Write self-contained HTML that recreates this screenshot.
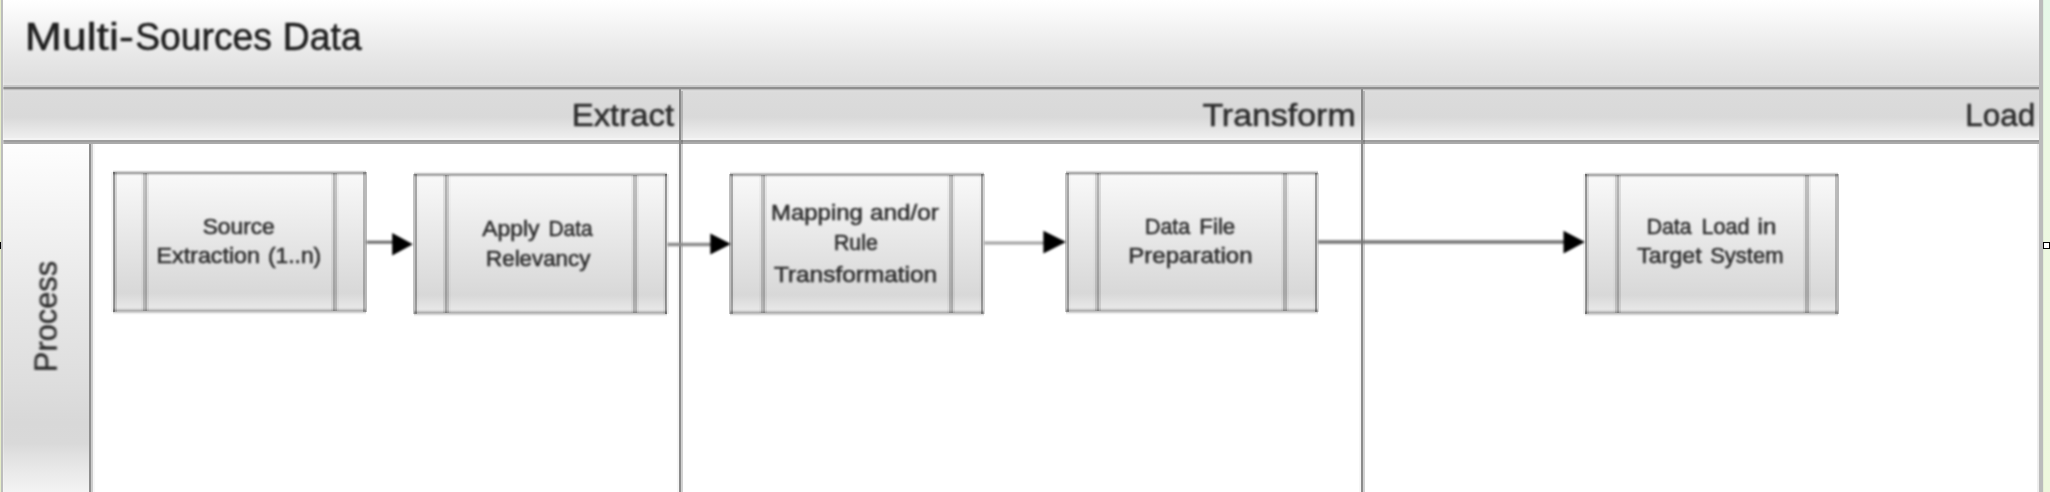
<!DOCTYPE html>
<html><head><meta charset="utf-8"><title>Multi-Sources Data</title>
<style>
html,body{margin:0;padding:0;background:#fff;}
body{width:2050px;height:492px;overflow:hidden;font-family:"Liberation Sans",sans-serif;}
svg{display:block;}
</style></head><body>
<svg width="2050" height="492" viewBox="0 0 2050 492" font-family="Liberation Sans, sans-serif" shape-rendering="crispEdges">
<defs>
<linearGradient id="gt" x1="0" y1="0" x2="0" y2="1"><stop offset="0" stop-color="#ffffff"/><stop offset="0.08" stop-color="#fcfcfc"/><stop offset="0.35" stop-color="#f2f2f2"/><stop offset="0.65" stop-color="#e7e7e7"/><stop offset="0.93" stop-color="#dfdfdf"/><stop offset="0.97" stop-color="#e3e3e3"/><stop offset="1" stop-color="#e3e3e3"/></linearGradient>
<linearGradient id="gp" x1="0" y1="0" x2="0" y2="1"><stop offset="0" stop-color="#e0e0e0"/><stop offset="0.08" stop-color="#dbdbdb"/><stop offset="0.55" stop-color="#d9d9d9"/><stop offset="0.95" stop-color="#eeeeee"/><stop offset="1" stop-color="#f3f3f3"/></linearGradient>
<linearGradient id="gc" x1="0" y1="0" x2="0" y2="1"><stop offset="0" stop-color="#fefefe"/><stop offset="0.45" stop-color="#e7e7e7"/><stop offset="0.68" stop-color="#dedede"/><stop offset="0.80" stop-color="#d8d8d8"/><stop offset="0.86" stop-color="#d9d9d9"/><stop offset="0.9" stop-color="#e2e2e2"/><stop offset="0.95" stop-color="#ebebeb"/><stop offset="1" stop-color="#f3f3f3"/></linearGradient>
<linearGradient id="bx" x1="0" y1="0" x2="0" y2="1"><stop offset="0" stop-color="#f9f9f9"/><stop offset="0.5" stop-color="#e6e6e6"/><stop offset="0.87" stop-color="#d8d8d8"/><stop offset="1" stop-color="#ebebeb"/></linearGradient>
<linearGradient id="gr" x1="0" y1="0" x2="0" y2="1"><stop offset="0" stop-color="#e6f7e8"/><stop offset="0.3" stop-color="#ecf7e2"/><stop offset="1" stop-color="#eef7dd"/></linearGradient>
<filter id="bt" x="-20" y="-20" width="2090" height="532" filterUnits="userSpaceOnUse" color-interpolation-filters="sRGB"><feGaussianBlur stdDeviation="0.9"/></filter>
</defs>
<rect width="2050" height="492" fill="#ffffff"/>

<rect x="3" y="0" width="2036" height="87" fill="url(#gt)"/>
<rect x="3" y="89" width="2036" height="51" fill="url(#gp)"/>
<rect x="3" y="144" width="86" height="348" fill="url(#gc)"/>
<rect x="3" y="85" width="2037.5" height="2" fill="#c9c9c9"/>
<rect x="3" y="87" width="2037.5" height="2" fill="#8e8e8e"/>
<rect x="3" y="89" width="2037.5" height="1" fill="#bcbcbc"/>
<rect x="3" y="90" width="2037.5" height="1" fill="#d6d6d6"/>
<rect x="3" y="138" width="2036" height="2" fill="#f4f4f4"/>
<rect x="3" y="140" width="2037.5" height="2" fill="#9d9d9d"/>
<rect x="3" y="142" width="2037.5" height="2" fill="#aaaaaa"/>
<rect x="677" y="144" width="2" height="348" fill="#f6f6f6"/>
<rect x="679" y="89" width="2" height="403" fill="#8b8b8b"/>
<rect x="681" y="91" width="2" height="401" fill="#000" fill-opacity="0.18"/>
<rect x="1359" y="144" width="2" height="348" fill="#f6f6f6"/>
<rect x="1361" y="89" width="2" height="403" fill="#8b8b8b"/>
<rect x="1363" y="91" width="2" height="401" fill="#000" fill-opacity="0.18"/>
<rect x="89" y="144" width="2" height="348" fill="#8e8e8e"/>
<rect x="91" y="144" width="2" height="348" fill="#cccccc"/>
<rect x="93" y="144" width="2" height="348" fill="#f8f8f8"/>
<rect x="0" y="0" width="1" height="492" fill="#e6eec8"/>
<rect x="1" y="0" width="2" height="492" fill="#bdbdbd"/>
<rect x="3" y="0" width="1" height="492" fill="#fff" fill-opacity="0.3"/>
<rect x="2037" y="144" width="2" height="348" fill="#eeeeee"/>
<rect x="2039" y="0" width="4" height="492" fill="#bbbbbb"/>
<rect x="2043" y="0" width="7" height="492" fill="url(#gr)"/>
<rect x="2043" y="0" width="1" height="492" fill="#000" fill-opacity="0.035"/>
<rect x="0" y="242" width="1.4" height="7" fill="#000"/>
<rect x="2043.65" y="242.65" width="5.7" height="5.7" fill="#fff" stroke="#000" stroke-width="1.3"/>
<rect x="114.3" y="172.9" width="250.75" height="138.20000000000002" fill="url(#bx)"/><rect x="141" y="173" width="2" height="138" fill="#000" fill-opacity="0.034"/><rect x="143" y="173" width="2" height="138" fill="#000" fill-opacity="0.201"/><rect x="145" y="173" width="2" height="138" fill="#000" fill-opacity="0.252"/><rect x="147" y="173" width="2" height="138" fill="#000" fill-opacity="0.068"/><rect x="331" y="173" width="2" height="138" fill="#000" fill-opacity="0.068"/><rect x="333" y="173" width="2" height="138" fill="#000" fill-opacity="0.252"/><rect x="335" y="173" width="2" height="138" fill="#000" fill-opacity="0.201"/><rect x="337" y="173" width="2" height="138" fill="#000" fill-opacity="0.034"/><rect x="113.3" y="170" width="252.75" height="1" fill="#000" fill-opacity="0.049"/><rect x="113.3" y="171" width="252.75" height="1" fill="#000" fill-opacity="0.170"/><rect x="113.3" y="172" width="252.75" height="1" fill="#000" fill-opacity="0.307"/><rect x="113.3" y="173" width="252.75" height="1" fill="#000" fill-opacity="0.287"/><rect x="113.3" y="174" width="252.75" height="1" fill="#000" fill-opacity="0.140"/><rect x="113.3" y="175" width="252.75" height="1" fill="#000" fill-opacity="0.035"/><rect x="113.3" y="307" width="252.75" height="1" fill="#000" fill-opacity="0.013"/><rect x="113.3" y="308" width="252.75" height="1" fill="#000" fill-opacity="0.055"/><rect x="113.3" y="309" width="252.75" height="1" fill="#000" fill-opacity="0.143"/><rect x="113.3" y="310" width="252.75" height="1" fill="#000" fill-opacity="0.236"/><rect x="113.3" y="311" width="252.75" height="1" fill="#000" fill-opacity="0.247"/><rect x="113.3" y="312" width="252.75" height="1" fill="#000" fill-opacity="0.164"/><rect x="113.3" y="313" width="252.75" height="1" fill="#000" fill-opacity="0.069"/><rect x="113.3" y="314" width="252.75" height="1" fill="#000" fill-opacity="0.018"/><rect x="111" y="172" width="2" height="140" fill="#000" fill-opacity="0.049"/><rect x="113" y="172" width="2" height="140" fill="#000" fill-opacity="0.393"/><rect x="115" y="172" width="2" height="140" fill="#000" fill-opacity="0.131"/><rect x="363" y="172" width="2" height="140" fill="#000" fill-opacity="0.246"/><rect x="365" y="172" width="2" height="140" fill="#000" fill-opacity="0.269"/>
<rect x="415.2" y="174.6" width="250.90000000000003" height="138.4" fill="url(#bx)"/><rect x="443" y="175" width="2" height="138" fill="#000" fill-opacity="0.092"/><rect x="445" y="175" width="2" height="138" fill="#000" fill-opacity="0.269"/><rect x="447" y="175" width="2" height="138" fill="#000" fill-opacity="0.170"/><rect x="449" y="175" width="2" height="138" fill="#000" fill-opacity="0.023"/><rect x="631" y="175" width="2" height="138" fill="#000" fill-opacity="0.049"/><rect x="633" y="175" width="2" height="138" fill="#000" fill-opacity="0.229"/><rect x="635" y="175" width="2" height="138" fill="#000" fill-opacity="0.229"/><rect x="637" y="175" width="2" height="138" fill="#000" fill-opacity="0.049"/><rect x="414.2" y="171" width="252.90000000000003" height="1" fill="#000" fill-opacity="0.014"/><rect x="414.2" y="172" width="252.90000000000003" height="1" fill="#000" fill-opacity="0.076"/><rect x="414.2" y="173" width="252.90000000000003" height="1" fill="#000" fill-opacity="0.217"/><rect x="414.2" y="174" width="252.90000000000003" height="1" fill="#000" fill-opacity="0.322"/><rect x="414.2" y="175" width="252.90000000000003" height="1" fill="#000" fill-opacity="0.248"/><rect x="414.2" y="176" width="252.90000000000003" height="1" fill="#000" fill-opacity="0.099"/><rect x="414.2" y="177" width="252.90000000000003" height="1" fill="#000" fill-opacity="0.020"/><rect x="414.2" y="309" width="252.90000000000003" height="1" fill="#000" fill-opacity="0.016"/><rect x="414.2" y="310" width="252.90000000000003" height="1" fill="#000" fill-opacity="0.061"/><rect x="414.2" y="311" width="252.90000000000003" height="1" fill="#000" fill-opacity="0.153"/><rect x="414.2" y="312" width="252.90000000000003" height="1" fill="#000" fill-opacity="0.242"/><rect x="414.2" y="313" width="252.90000000000003" height="1" fill="#000" fill-opacity="0.242"/><rect x="414.2" y="314" width="252.90000000000003" height="1" fill="#000" fill-opacity="0.153"/><rect x="414.2" y="315" width="252.90000000000003" height="1" fill="#000" fill-opacity="0.061"/><rect x="414.2" y="316" width="252.90000000000003" height="1" fill="#000" fill-opacity="0.016"/><rect x="413" y="174" width="2" height="140" fill="#000" fill-opacity="0.234"/><rect x="415" y="174" width="2" height="140" fill="#000" fill-opacity="0.319"/><rect x="417" y="174" width="2" height="140" fill="#000" fill-opacity="0.017"/><rect x="663" y="174" width="2" height="140" fill="#000" fill-opacity="0.051"/><rect x="665" y="174" width="2" height="140" fill="#000" fill-opacity="0.398"/><rect x="667" y="174" width="2" height="140" fill="#000" fill-opacity="0.076"/>
<rect x="731.1" y="174.6" width="251.5" height="138.4" fill="url(#bx)"/><rect x="759" y="175" width="2" height="138" fill="#000" fill-opacity="0.034"/><rect x="761" y="175" width="2" height="138" fill="#000" fill-opacity="0.201"/><rect x="763" y="175" width="2" height="138" fill="#000" fill-opacity="0.252"/><rect x="765" y="175" width="2" height="138" fill="#000" fill-opacity="0.068"/><rect x="947" y="175" width="2" height="138" fill="#000" fill-opacity="0.038"/><rect x="949" y="175" width="2" height="138" fill="#000" fill-opacity="0.210"/><rect x="951" y="175" width="2" height="138" fill="#000" fill-opacity="0.245"/><rect x="953" y="175" width="2" height="138" fill="#000" fill-opacity="0.061"/><rect x="730.1" y="171" width="253.5" height="1" fill="#000" fill-opacity="0.014"/><rect x="730.1" y="172" width="253.5" height="1" fill="#000" fill-opacity="0.076"/><rect x="730.1" y="173" width="253.5" height="1" fill="#000" fill-opacity="0.217"/><rect x="730.1" y="174" width="253.5" height="1" fill="#000" fill-opacity="0.322"/><rect x="730.1" y="175" width="253.5" height="1" fill="#000" fill-opacity="0.248"/><rect x="730.1" y="176" width="253.5" height="1" fill="#000" fill-opacity="0.099"/><rect x="730.1" y="177" width="253.5" height="1" fill="#000" fill-opacity="0.020"/><rect x="730.1" y="309" width="253.5" height="1" fill="#000" fill-opacity="0.016"/><rect x="730.1" y="310" width="253.5" height="1" fill="#000" fill-opacity="0.061"/><rect x="730.1" y="311" width="253.5" height="1" fill="#000" fill-opacity="0.153"/><rect x="730.1" y="312" width="253.5" height="1" fill="#000" fill-opacity="0.242"/><rect x="730.1" y="313" width="253.5" height="1" fill="#000" fill-opacity="0.242"/><rect x="730.1" y="314" width="253.5" height="1" fill="#000" fill-opacity="0.153"/><rect x="730.1" y="315" width="253.5" height="1" fill="#000" fill-opacity="0.061"/><rect x="730.1" y="316" width="253.5" height="1" fill="#000" fill-opacity="0.016"/><rect x="729" y="174" width="2" height="140" fill="#000" fill-opacity="0.256"/><rect x="731" y="174" width="2" height="140" fill="#000" fill-opacity="0.299"/><rect x="733" y="174" width="2" height="140" fill="#000" fill-opacity="0.013"/><rect x="979" y="174" width="2" height="140" fill="#000" fill-opacity="0.016"/><rect x="981" y="174" width="2" height="140" fill="#000" fill-opacity="0.342"/><rect x="983" y="174" width="2" height="140" fill="#000" fill-opacity="0.166"/>
<rect x="1067.2" y="173.1" width="249.29999999999995" height="138.00000000000003" fill="url(#bx)"/><rect x="1093" y="173" width="2" height="138" fill="#000" fill-opacity="0.017"/><rect x="1095" y="173" width="2" height="138" fill="#000" fill-opacity="0.149"/><rect x="1097" y="173" width="2" height="138" fill="#000" fill-opacity="0.275"/><rect x="1099" y="173" width="2" height="138" fill="#000" fill-opacity="0.109"/><rect x="1281" y="173" width="2" height="138" fill="#000" fill-opacity="0.049"/><rect x="1283" y="173" width="2" height="138" fill="#000" fill-opacity="0.229"/><rect x="1285" y="173" width="2" height="138" fill="#000" fill-opacity="0.229"/><rect x="1287" y="173" width="2" height="138" fill="#000" fill-opacity="0.049"/><rect x="1066.2" y="170" width="251.29999999999995" height="1" fill="#000" fill-opacity="0.035"/><rect x="1066.2" y="171" width="251.29999999999995" height="1" fill="#000" fill-opacity="0.140"/><rect x="1066.2" y="172" width="251.29999999999995" height="1" fill="#000" fill-opacity="0.287"/><rect x="1066.2" y="173" width="251.29999999999995" height="1" fill="#000" fill-opacity="0.307"/><rect x="1066.2" y="174" width="251.29999999999995" height="1" fill="#000" fill-opacity="0.170"/><rect x="1066.2" y="175" width="251.29999999999995" height="1" fill="#000" fill-opacity="0.049"/><rect x="1066.2" y="307" width="251.29999999999995" height="1" fill="#000" fill-opacity="0.013"/><rect x="1066.2" y="308" width="251.29999999999995" height="1" fill="#000" fill-opacity="0.055"/><rect x="1066.2" y="309" width="251.29999999999995" height="1" fill="#000" fill-opacity="0.143"/><rect x="1066.2" y="310" width="251.29999999999995" height="1" fill="#000" fill-opacity="0.236"/><rect x="1066.2" y="311" width="251.29999999999995" height="1" fill="#000" fill-opacity="0.247"/><rect x="1066.2" y="312" width="251.29999999999995" height="1" fill="#000" fill-opacity="0.164"/><rect x="1066.2" y="313" width="251.29999999999995" height="1" fill="#000" fill-opacity="0.069"/><rect x="1066.2" y="314" width="251.29999999999995" height="1" fill="#000" fill-opacity="0.018"/><rect x="1065" y="173" width="2" height="139" fill="#000" fill-opacity="0.234"/><rect x="1067" y="173" width="2" height="139" fill="#000" fill-opacity="0.319"/><rect x="1069" y="173" width="2" height="139" fill="#000" fill-opacity="0.017"/><rect x="1313" y="173" width="2" height="139" fill="#000" fill-opacity="0.020"/><rect x="1315" y="173" width="2" height="139" fill="#000" fill-opacity="0.359"/><rect x="1317" y="173" width="2" height="139" fill="#000" fill-opacity="0.145"/>
<rect x="1586.2" y="174.9" width="250.89999999999986" height="138.1" fill="url(#bx)"/><rect x="1613" y="175" width="2" height="138" fill="#000" fill-opacity="0.020"/><rect x="1615" y="175" width="2" height="138" fill="#000" fill-opacity="0.159"/><rect x="1617" y="175" width="2" height="138" fill="#000" fill-opacity="0.272"/><rect x="1619" y="175" width="2" height="138" fill="#000" fill-opacity="0.100"/><rect x="1803" y="175" width="2" height="138" fill="#000" fill-opacity="0.049"/><rect x="1805" y="175" width="2" height="138" fill="#000" fill-opacity="0.229"/><rect x="1807" y="175" width="2" height="138" fill="#000" fill-opacity="0.229"/><rect x="1809" y="175" width="2" height="138" fill="#000" fill-opacity="0.049"/><rect x="1585.2" y="172" width="252.89999999999986" height="1" fill="#000" fill-opacity="0.049"/><rect x="1585.2" y="173" width="252.89999999999986" height="1" fill="#000" fill-opacity="0.170"/><rect x="1585.2" y="174" width="252.89999999999986" height="1" fill="#000" fill-opacity="0.307"/><rect x="1585.2" y="175" width="252.89999999999986" height="1" fill="#000" fill-opacity="0.287"/><rect x="1585.2" y="176" width="252.89999999999986" height="1" fill="#000" fill-opacity="0.140"/><rect x="1585.2" y="177" width="252.89999999999986" height="1" fill="#000" fill-opacity="0.035"/><rect x="1585.2" y="309" width="252.89999999999986" height="1" fill="#000" fill-opacity="0.016"/><rect x="1585.2" y="310" width="252.89999999999986" height="1" fill="#000" fill-opacity="0.061"/><rect x="1585.2" y="311" width="252.89999999999986" height="1" fill="#000" fill-opacity="0.153"/><rect x="1585.2" y="312" width="252.89999999999986" height="1" fill="#000" fill-opacity="0.242"/><rect x="1585.2" y="313" width="252.89999999999986" height="1" fill="#000" fill-opacity="0.242"/><rect x="1585.2" y="314" width="252.89999999999986" height="1" fill="#000" fill-opacity="0.153"/><rect x="1585.2" y="315" width="252.89999999999986" height="1" fill="#000" fill-opacity="0.061"/><rect x="1585.2" y="316" width="252.89999999999986" height="1" fill="#000" fill-opacity="0.016"/><rect x="1583" y="174" width="2" height="140" fill="#000" fill-opacity="0.059"/><rect x="1585" y="174" width="2" height="140" fill="#000" fill-opacity="0.401"/><rect x="1587" y="174" width="2" height="140" fill="#000" fill-opacity="0.114"/><rect x="1835" y="174" width="2" height="140" fill="#000" fill-opacity="0.234"/><rect x="1837" y="174" width="2" height="140" fill="#000" fill-opacity="0.280"/>
<g filter="url(#bt)" shape-rendering="auto">
<text x="24.88" y="49.5" font-size="38" textLength="108.85" lengthAdjust="spacingAndGlyphs" fill="#1e1e1e" stroke="#1e1e1e" stroke-width="0.55">Multi-</text><text x="135.22" y="49.5" font-size="38" textLength="136.66" lengthAdjust="spacingAndGlyphs" fill="#1e1e1e" stroke="#1e1e1e" stroke-width="0.55">Sources</text><text x="282.85" y="49.5" font-size="38" textLength="78.90" lengthAdjust="spacingAndGlyphs" fill="#1e1e1e" stroke="#1e1e1e" stroke-width="0.55">Data</text>
<text x="571.74" y="125.8" font-size="32" textLength="102.34" lengthAdjust="spacingAndGlyphs" fill="#2c2c2c" stroke="#2c2c2c" stroke-width="0.55">Extract</text>
<text x="1202.40" y="125.8" font-size="32" textLength="153.26" lengthAdjust="spacingAndGlyphs" fill="#2c2c2c" stroke="#2c2c2c" stroke-width="0.55">Transform</text>
<text x="1965.33" y="125.8" font-size="32" textLength="70.04" lengthAdjust="spacingAndGlyphs" fill="#2c2c2c" stroke="#2c2c2c" stroke-width="0.55">Load</text>
<text transform="translate(56.6,371) rotate(-90)" x="-1.13" y="0" font-size="32" textLength="111.29" lengthAdjust="spacingAndGlyphs" fill="#2c2c2c" stroke="#2c2c2c" stroke-width="0.45">Process</text>
<line x1="366.3" y1="242.2" x2="394.2" y2="242.2" stroke="#6a6a6a" stroke-width="3.0"/><polygon points="392.2,233.10000000000002 412.9,244.3 392.2,255.5" fill="#000"/>
<line x1="667.3" y1="244.5" x2="712.3" y2="244.5" stroke="#8a8a8a" stroke-width="3.4"/><polygon points="710.3,233.4 731.0,244.0 710.3,254.6" fill="#000"/>
<line x1="983.8" y1="243.1" x2="1045.4" y2="243.1" stroke="#a0a0a0" stroke-width="3.0"/><polygon points="1043.4,230.7 1066.0,242.1 1043.4,253.5" fill="#000"/>
<line x1="1317.8" y1="242.0" x2="1565.5" y2="242.0" stroke="#747474" stroke-width="3.3"/><polygon points="1563.5,230.7 1584.9,242.1 1563.5,253.5" fill="#000"/>
<text x="202.69" y="233.7" font-size="22.5" textLength="72.03" lengthAdjust="spacingAndGlyphs" fill="#2c2c2c" stroke="#2c2c2c" stroke-width="0.55">Source</text>
<text x="156.57" y="263" font-size="22.5" textLength="103.36" lengthAdjust="spacingAndGlyphs" fill="#2c2c2c" stroke="#2c2c2c" stroke-width="0.55">Extraction</text><text x="267.99" y="263" font-size="22.5" textLength="53.21" lengthAdjust="spacingAndGlyphs" fill="#2c2c2c" stroke="#2c2c2c" stroke-width="0.55">(1..n)</text>
<text x="482.20" y="235.9" font-size="22.5" textLength="57.24" lengthAdjust="spacingAndGlyphs" fill="#2c2c2c" stroke="#2c2c2c" stroke-width="0.55">Apply</text><text x="548.47" y="235.9" font-size="22.5" textLength="44.18" lengthAdjust="spacingAndGlyphs" fill="#2c2c2c" stroke="#2c2c2c" stroke-width="0.55">Data</text>
<text x="486.11" y="266" font-size="22.5" textLength="104.25" lengthAdjust="spacingAndGlyphs" fill="#2c2c2c" stroke="#2c2c2c" stroke-width="0.55">Relevancy</text>
<text x="771.04" y="219.7" font-size="22.5" textLength="91.81" lengthAdjust="spacingAndGlyphs" fill="#2c2c2c" stroke="#2c2c2c" stroke-width="0.55">Mapping</text><text x="870.00" y="219.7" font-size="22.5" textLength="68.85" lengthAdjust="spacingAndGlyphs" fill="#2c2c2c" stroke="#2c2c2c" stroke-width="0.55">and/or</text>
<text x="833.95" y="250.3" font-size="22.5" textLength="43.83" lengthAdjust="spacingAndGlyphs" fill="#2c2c2c" stroke="#2c2c2c" stroke-width="0.55">Rule</text>
<text x="773.90" y="282.1" font-size="22.5" textLength="163.26" lengthAdjust="spacingAndGlyphs" fill="#2c2c2c" stroke="#2c2c2c" stroke-width="0.55">Transformation</text>
<text x="1144.95" y="233.7" font-size="22.5" textLength="45.29" lengthAdjust="spacingAndGlyphs" fill="#2c2c2c" stroke="#2c2c2c" stroke-width="0.55">Data</text><text x="1199.31" y="233.7" font-size="22.5" textLength="36.00" lengthAdjust="spacingAndGlyphs" fill="#2c2c2c" stroke="#2c2c2c" stroke-width="0.55">File</text>
<text x="1128.33" y="263.1" font-size="22.5" textLength="124.22" lengthAdjust="spacingAndGlyphs" fill="#2c2c2c" stroke="#2c2c2c" stroke-width="0.55">Preparation</text>
<text x="1646.65" y="233.7" font-size="22.5" textLength="44.99" lengthAdjust="spacingAndGlyphs" fill="#2c2c2c" stroke="#2c2c2c" stroke-width="0.55">Data</text><text x="1701.54" y="233.7" font-size="22.5" textLength="48.05" lengthAdjust="spacingAndGlyphs" fill="#2c2c2c" stroke="#2c2c2c" stroke-width="0.55">Load</text><text x="1757.63" y="233.7" font-size="22.5" textLength="18.72" lengthAdjust="spacingAndGlyphs" fill="#2c2c2c" stroke="#2c2c2c" stroke-width="0.55">in</text>
<text x="1637.30" y="263" font-size="22.5" textLength="64.33" lengthAdjust="spacingAndGlyphs" fill="#2c2c2c" stroke="#2c2c2c" stroke-width="0.55">Target</text><text x="1710.22" y="263" font-size="22.5" textLength="73.20" lengthAdjust="spacingAndGlyphs" fill="#2c2c2c" stroke="#2c2c2c" stroke-width="0.55">System</text>
</g></svg>
</body></html>
